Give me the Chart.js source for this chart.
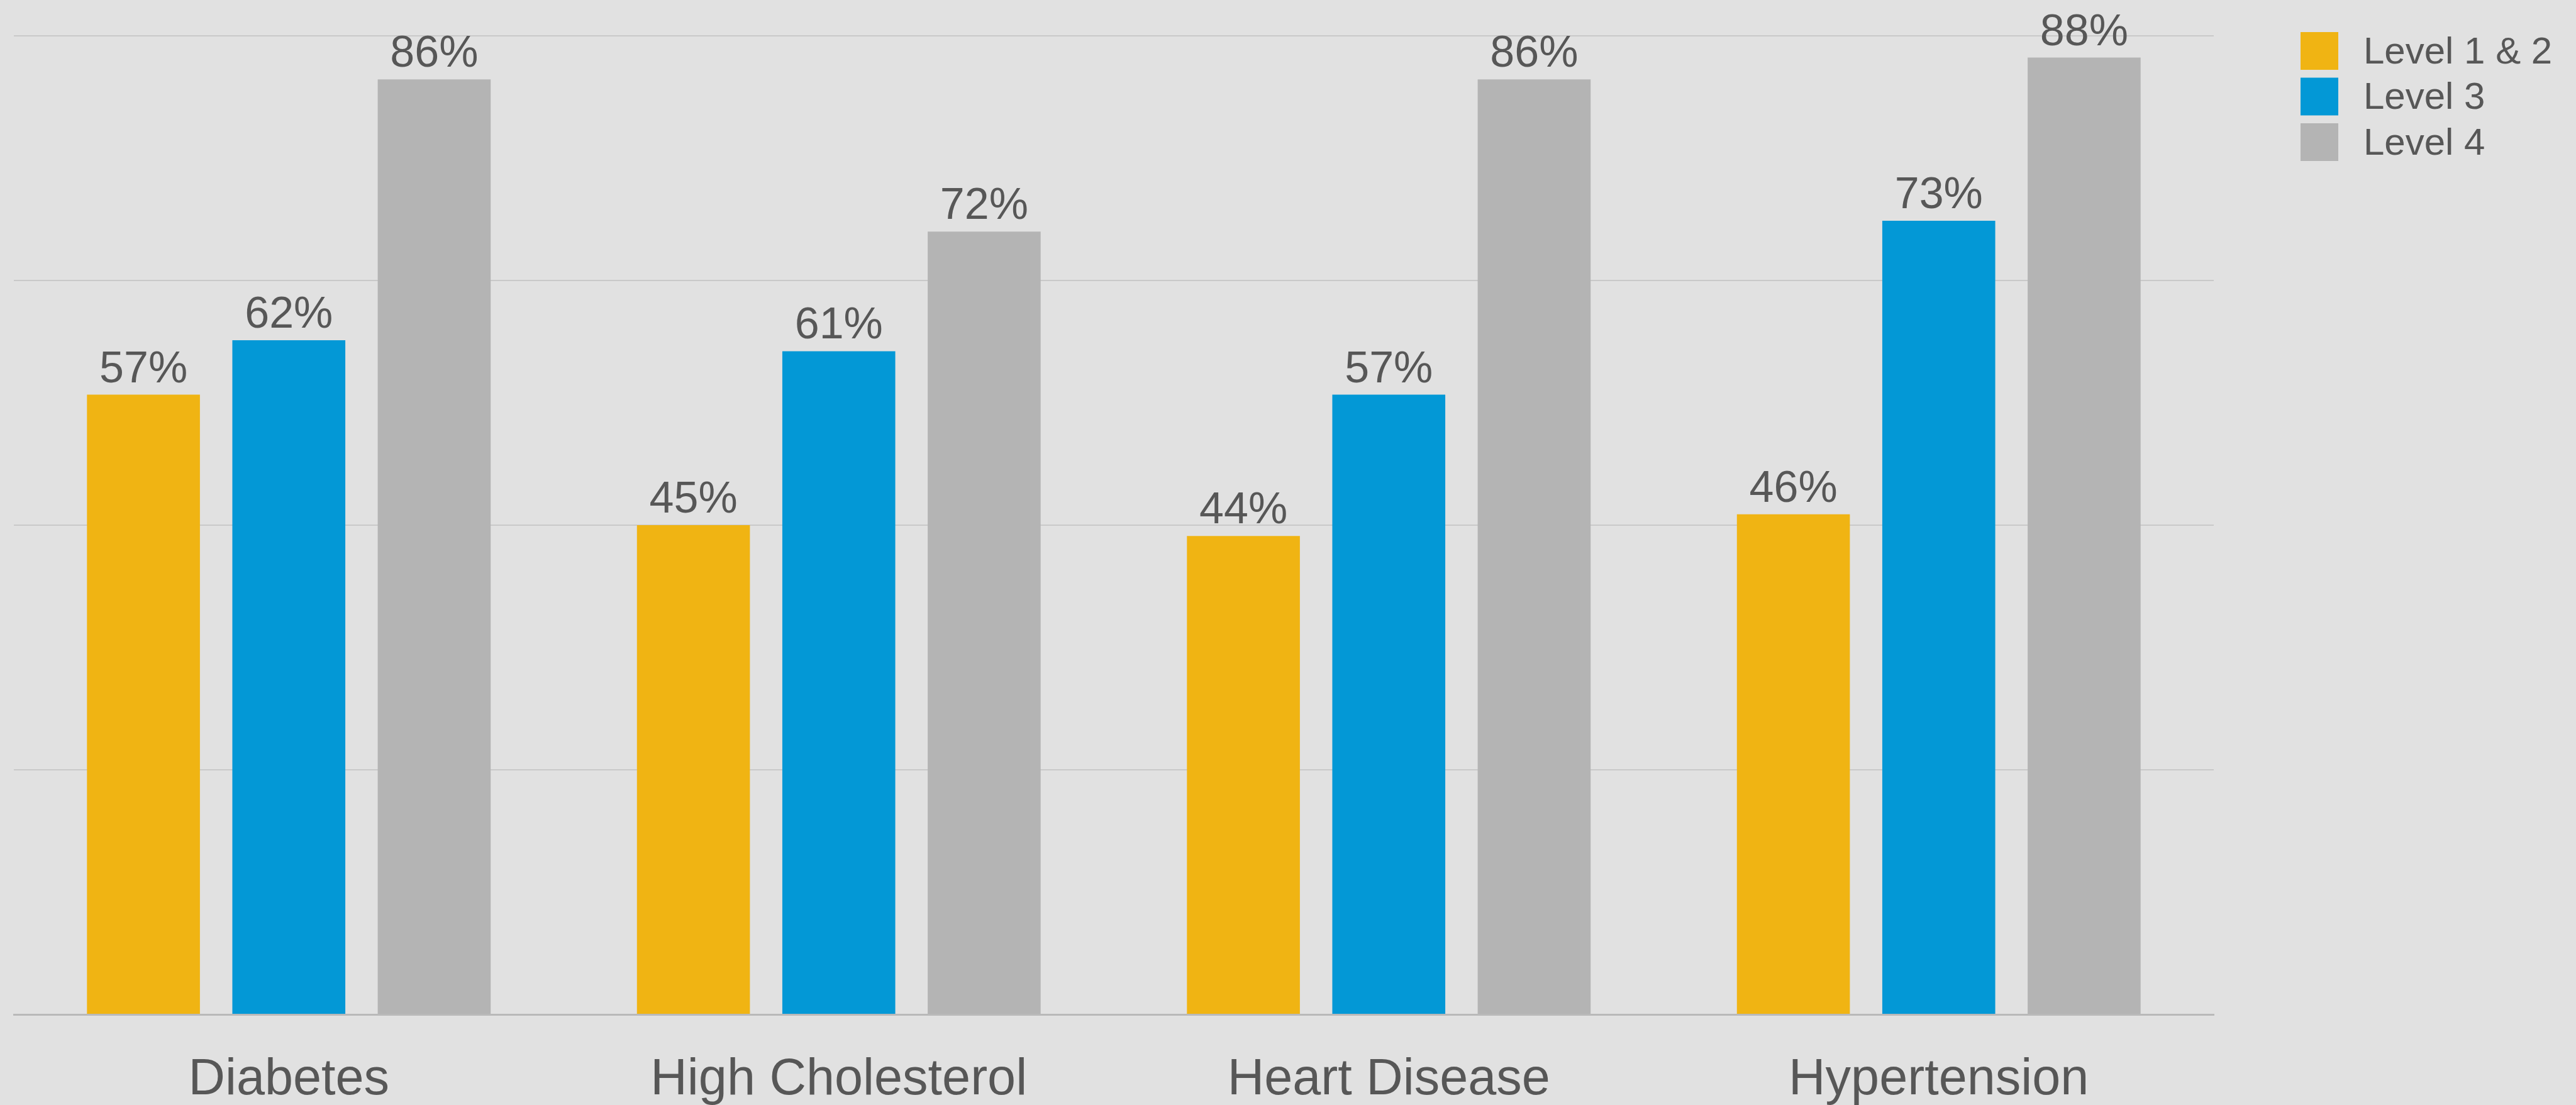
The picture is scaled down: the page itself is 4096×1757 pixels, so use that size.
<!DOCTYPE html>
<html>
<head>
<meta charset="utf-8">
<script src="https://cdn.jsdelivr.net/npm/chart.js@4"></script>
<style>
  html, body { margin: 0; padding: 0; background: #e1e1e1; }
  #wrap { width: 4096px; height: 1757px; position: relative; }
</style>
</head>
<body>
<div id="wrap"><canvas id="levelsChart" width="4096" height="1757"></canvas></div>
<script>
// Categories and per-level shares (%)
const conditions = ['Diabetes', 'High Cholesterol', 'Heart Disease', 'Hypertension'];
const levelNames = ['Level 1 & 2', 'Level 3', 'Level 4'];
const level12 = [57, 45, 44, 46];
const level3 = [62, 61, 57, 73];
const level4 = [86, 72, 86, 88];
const levelColors = ['#f0b413', '#0398d6', '#b4b4b4'];
// y axis runs 0..90 with gridlines every 22.5
const yTicks = [0, 22.5, 45, 67.5, 90];

const textColor = '#575757';
const fontFamily = '"Liberation Sans", Helvetica, Arial, sans-serif';

// Percent labels above each bar
const valueLabels = {
    id: 'valueLabels',
    afterDatasetsDraw(chart) {
        const ctx = chart.ctx;
        ctx.save();
        ctx.fillStyle = textColor;
        ctx.font = '70px ' + fontFamily;
        ctx.textAlign = 'center';
        ctx.textBaseline = 'alphabetic';
        chart.data.datasets.forEach((ds, i) => {
            chart.getDatasetMeta(i).data.forEach((bar, j) => {
                ctx.fillText(ds.data[j] + '%', bar.x, bar.y - 20);
            });
        });
        ctx.restore();
    }
};

// Legend drawn at the top right, squares + names
const sideLegend = {
    id: 'sideLegend',
    afterDraw(chart) {
        const ctx = chart.ctx;
        const x = 3658, top = 51, box = 60, pitch = 72.5;
        ctx.save();
        ctx.font = '60px ' + fontFamily;
        ctx.textBaseline = 'middle';
        ctx.textAlign = 'left';
        chart.data.datasets.forEach((ds, i) => {
            const y = top + i * pitch;
            ctx.fillStyle = ds.backgroundColor;
            ctx.fillRect(x, y, box, box);
            ctx.fillStyle = textColor;
            ctx.fillText(ds.label, x + 100, y + box / 2 + 3);
        });
        ctx.restore();
    }
};

const series = [level12, level3, level4];

new Chart(document.getElementById('levelsChart').getContext('2d'), {
    type: 'bar',
    data: {
        labels: conditions,
        datasets: series.map((values, i) => ({
            label: levelNames[i],
            data: values,
            backgroundColor: levelColors[i],
            borderWidth: 0,
            categoryPercentage: 0.793,
            barPercentage: 0.777
        }))
    },
    options: {
        responsive: false,
        devicePixelRatio: 1,
        animation: false,
        layout: { padding: { left: 22, right: 576, top: 57, bottom: 0 } },
        plugins: {
            legend: { display: false },
            tooltip: { enabled: false }
        },
        scales: {
            x: {
                grid: { display: false, drawTicks: false },
                border: { display: true, color: '#b9b9b9', width: 3 },
                ticks: {
                    color: textColor,
                    font: { family: fontFamily, size: 81 },
                    padding: 56
                },
                // fixed band under the plot for the category names
                afterFit(axis) {
                    axis.height = 144;
                }
            },
            y: {
                min: 0,
                max: 90,
                afterBuildTicks(axis) {
                    axis.ticks = yTicks.map(v => ({ value: v }));
                },
                ticks: { display: false },
                grid: { color: '#c9c9c9', lineWidth: 2, drawTicks: false },
                border: { display: false }
            }
        }
    },
    plugins: [valueLabels, sideLegend]
});
</script>
</body>
</html>
